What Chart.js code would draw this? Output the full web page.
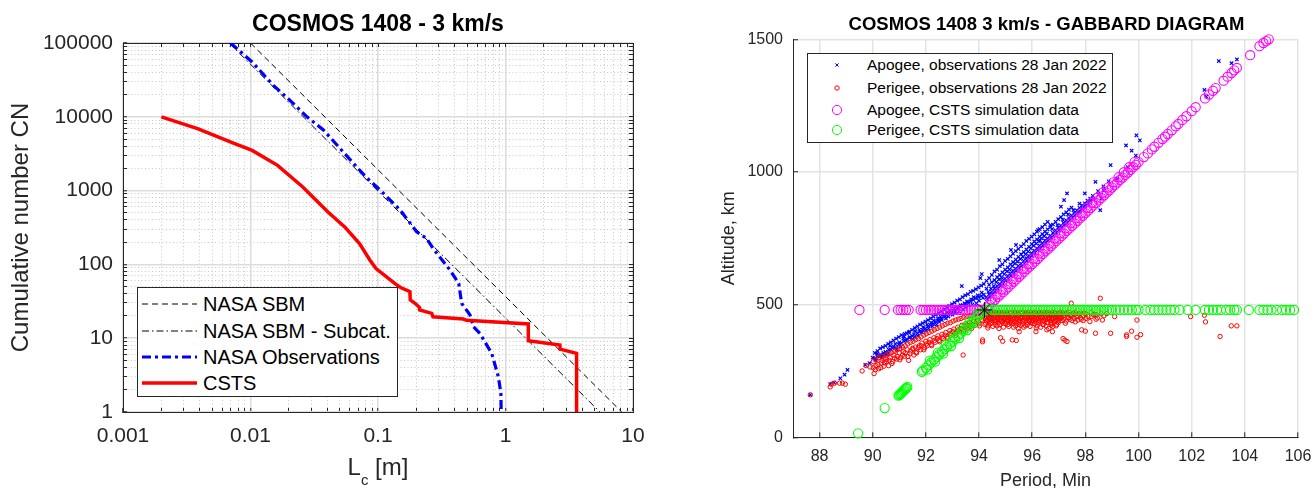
<!DOCTYPE html>
<html>
<head>
<meta charset="utf-8">
<title>COSMOS 1408 - 3 km/s</title>
<script src="https://cdn.jsdelivr.net/npm/chart.js@4/dist/chart.umd.min.js"></script>
<style>
html,body{margin:0;padding:0;background:#fff;overflow:hidden;}
#wrap{position:relative;width:1313px;height:488px;overflow:hidden;background:#fff;font-family:'Liberation Sans',Arial,Helvetica,sans-serif;}
#c1,#c2{position:absolute;top:0;}
#c1{left:0;}
#c2{left:700px;}
.leg{position:absolute;box-sizing:border-box;border:1px solid #262626;background:#fff;z-index:5;}
.leg svg{position:absolute;overflow:visible;}
.leg .t{position:absolute;white-space:nowrap;color:#000;}
#xl1{position:absolute;left:0;width:756px;top:455px;text-align:center;font-size:24px;line-height:24px;color:#262626;white-space:nowrap;z-index:5;}
#xl1 sub{font-size:15px;vertical-align:-10px;line-height:0;}
</style>
</head>
<body>
<div id="wrap">
<canvas id="c1" width="756" height="500"></canvas>
<canvas id="c2" width="693" height="500"></canvas>
<div id="xl1">L<sub>c</sub> [m]</div>
<div class="leg" id="legL" style="left:137px;top:287px;width:261px;height:110px;"></div>
<div class="leg" id="legR" style="left:807px;top:53px;width:306px;height:90px;"></div>
</div>
<script>
// ---------------- LEFT CHART DATA ----------------
const xDecades = [0.001, 0.01, 0.1, 1, 10];
const xTickLabels = ['0.001', '0.01', '0.1', '1', '10'];
const yDecades = [1, 10, 100, 1000, 10000, 100000];
const yTickLabels = ['1', '10', '100', '1000', '10000', '100000'];
const minorMultipliers = [2, 3, 4, 5, 6, 7, 8, 9];

const sbmLc = [0.01, 8.15];
const sbmN = [100000, 1];
const subcatLc = [0.0068, 5.5];
const subcatN = [100000, 1];
const obsLc = [0.00697, 0.0103, 0.0151, 0.0204, 0.0277, 0.0375, 0.0548, 0.0802, 0.105, 0.149, 0.201, 0.24, 0.27, 0.367, 0.43, 0.453, 0.527, 0.56, 0.63, 0.78, 0.879, 0.92, 0.925];
const obsN = [100000, 55300, 26700, 16700, 10000, 6570, 3170, 1530, 1000, 546, 277, 225, 165, 84, 55, 29.7, 20.6, 14.3, 11.6, 6.2, 3.0, 1.79, 1];
const cstsLc = [0.002, 0.00384, 0.0076, 0.0103, 0.0163, 0.0257, 0.0405, 0.0548, 0.0716, 0.0865, 0.0965, 0.136, 0.149, 0.178, 0.179, 0.195, 0.211, 0.212, 0.264, 0.27, 0.467, 0.494, 1.51, 1.51, 2.67, 2.68, 3.61, 3.61];
const cstsN = [10000, 6900, 4300, 3500, 2200, 1120, 514, 322, 191, 114, 88, 55, 49, 42.7, 33, 29.7, 26.2, 24.1, 21.7, 19.5, 18.2, 17.5, 15.6, 9.25, 8.1, 7.1, 6.24, 1];
const legendLabelsL = ['NASA SBM', 'NASA SBM - Subcat.', 'NASA Observations', 'CSTS'];

// ---------------- RIGHT CHART DATA ----------------
const periodTicks = [88, 90, 92, 94, 96, 98, 100, 102, 104, 106];
const altitudeTicks = [0, 500, 1000, 1500];
const legendLabelsR = ['Apogee, observations 28 Jan 2022', 'Perigee, observations 28 Jan 2022', 'Apogee, CSTS simulation data', 'Perigee, CSTS simulation data'];

const apogeeObs = [
[87.65,160],[88.4,200],[88.55,206],[88.78,222],[88.94,236],[89.05,254],[89.72,273],[89.88,280],[90.0,300],[90.1,292],[90.16,315],[90.25,305],[90.35,300],[90.4,318],[90.5,312],[90.6,330],[90.65,345],[90.75,338],[90.85,352],[90.9,330],[91.0,358],[91.05,342],[91.15,372],[91.2,390],[91.25,365],[91.35,395],[91.4,378],[91.5,370],[91.55,388],[91.6,400],[91.7,382],[91.75,405],[91.85,395],[91.9,415],[92.0,402],[92.05,425],[92.1,410],[92.2,432],[92.25,418],[92.3,440],[92.4,425],[92.45,448],[92.5,435],[92.55,455],[92.6,442],[92.7,462],[92.75,448],[92.8,470],[92.85,455],[92.9,478],[93.0,462],[93.05,485],[93.1,470],[93.2,490],[93.25,475],[93.3,498],[93.35,570],[93.4,482],[93.45,505],[93.5,490],[93.55,512],[93.6,495],[93.7,520],[93.75,500],[93.8,528],[93.9,505],[93.95,535],[94.0,515],[94.05,600],[94.1,615],[94.1,545],[94.15,525],
[94.3,520],[94.35,548],[94.4,530],[94.45,560],[94.5,540],[94.55,570],[94.6,548],[94.65,585],[94.7,560],[94.76,668],[94.75,595],[94.8,570],[94.85,602],[94.9,578],[94.95,615],[95.0,590],[95.05,625],[95.1,598],[95.15,632],[95.2,706],[95.2,608],[95.25,645],[95.3,618],[95.35,655],[95.39,725],[95.4,628],[95.45,662],[95.5,638],[95.55,672],[95.6,646],[95.65,680],[95.7,655],[95.75,690],[95.8,665],[95.85,700],[95.9,675],[95.95,712],[96.0,685],[96.05,722],[96.1,695],[96.15,730],[96.22,781],[96.2,705],[96.25,738],[96.29,743],[96.3,712],[96.35,750],[96.4,722],[96.45,758],[96.5,732],[96.55,768],[96.6,742],[96.69,800],[96.7,752],[96.75,785],[96.8,760],[96.9,770],[96.95,800],[97.0,780],[97.08,869],[97.1,790],[97.15,820],[97.2,894],[97.2,800],[97.31,919],[97.3,808],[97.35,840],[97.4,818],[97.5,828],[97.55,856],[97.6,835],[97.7,845],[97.78,881],[97.8,852],[97.9,862],[97.98,919],[98.0,870],[98.1,880],[98.2,890],[98.3,898],[98.38,963],[98.5,915],[98.56,856],[98.61,900],[98.7,930],[98.95,1026],[99.2,975],[99.53,1100],[99.6,1018],[99.74,1080],[99.9,1062],[99.92,1138],[100.05,1119],[102.48,1309],[102.55,1284],[103.02,1418],[103.5,1410],[103.7,1424]
];
const apogeeObsDense = [
[90.08,298],[90.08,318],[90.18,305],[90.18,325],[90.28,312],[90.28,335],[90.38,308],[90.38,340],[90.48,322],[90.48,345],[90.58,318],[90.58,352],[90.68,330],[90.68,358],[90.78,342],[90.78,365],[90.88,338],[90.88,372],[90.98,350],[90.98,378],[91.08,355],[91.08,385],[91.18,362],[91.18,380],[91.28,370],[91.28,392],[91.38,375],[91.38,398],[91.48,382],[91.48,405],[91.58,378],[91.58,412],[91.68,392],[91.68,418],[91.78,398],[91.78,425],[91.88,405],[91.88,430],[91.98,410],[91.98,436],[92.08,418],[92.08,442],[92.18,422],[92.18,448],[92.28,428],[92.28,455],[92.38,436],[92.38,462],[92.48,442],[92.48,468],[92.58,448],[92.58,475],[92.68,455],[92.68,482],[92.78,460],[92.78,490],[92.88,468],[92.88,495],[92.98,472],[92.98,502],[93.08,478],[93.08,508],[93.18,485],[93.18,515],[93.28,492],[93.28,520],[93.38,498],[93.38,528],[93.48,502],[93.48,535],[93.58,508],[93.58,540],[93.68,512],[93.68,548],[93.78,518],[93.78,552],[93.88,524],[93.88,558],[93.98,528],[93.98,565],[94.08,532],[94.08,572],[94.18,538],[94.18,578],
[94.28,528],[94.28,560],[94.28,590],[94.38,540],[94.38,575],[94.38,600],[94.48,548],[94.48,585],[94.48,612],[94.58,560],[94.58,592],[94.58,625],[94.68,570],[94.68,604],[94.68,632],[94.78,578],[94.78,612],[94.78,645],[94.88,590],[94.88,622],[94.88,652],[94.98,598],[94.98,632],[94.98,665],[95.08,608],[95.08,640],[95.08,672],[95.18,618],[95.18,652],[95.18,682],[95.28,628],[95.28,660],[95.28,692],[95.38,636],[95.38,670],[95.38,702],[95.48,646],[95.48,680],[95.48,710],[95.58,655],[95.58,690],[95.58,720],[95.68,665],[95.68,698],[95.68,728],[95.78,675],[95.78,708],[95.78,740],[95.88,684],[95.88,718],[95.88,748],[95.98,694],[95.98,728],[95.98,756],[96.08,704],[96.08,738],[96.08,765],[96.18,712],[96.18,746],[96.18,775],[96.28,722],[96.28,756],[96.28,785],[96.38,732],[96.38,766],[96.38,792],[96.48,742],[96.48,775],[96.48,802],[96.58,750],[96.58,784],[96.58,812],[96.68,760],[96.68,792],[96.78,770],[96.78,802],[96.88,780],[96.88,812],[96.98,790],[96.98,822],[97.08,798],[97.08,830],[97.18,808],[97.18,840],[97.28,818],[97.28,848],[97.38,826],[97.38,858],[97.48,836],[97.48,866],[97.58,845],[97.68,855],[97.78,865],[97.88,874],[97.98,882],[98.08,892],[98.18,900],[98.28,910],[98.48,928],[98.68,946],[98.88,965]
];

const perigeeObs = [
[87.65,160],[88.4,190],[88.45,200],[88.56,204],[88.75,204],[88.86,204],[88.97,200],
[89.6,250],[89.75,270],[89.9,265],[90.05,240],[90.1,255],[90.2,275],[90.3,262],[90.35,290],[90.45,280],[90.5,295],[90.6,270],[90.65,300],[90.75,285],[90.8,310],[90.9,295],[91.0,318],[91.05,300],[91.15,322],[91.2,305],[91.3,330],[91.35,290],[91.4,315],[91.5,335],[91.55,310],[91.6,340],[91.65,318],[91.75,345],[91.8,330],[91.85,355],[91.95,338],[92.0,362],[92.05,345],[92.15,368],[92.2,350],[92.3,375],[92.35,358],[92.45,382],[92.5,365],[92.6,388],[92.65,372],[92.75,395],[92.8,378],[92.9,402],[92.95,385],[93.05,408],[93.1,392],[93.2,415],[93.25,398],[93.35,422],[93.4,310],[93.45,405],[93.5,428],[93.55,412],[93.65,432],[93.7,418],[93.8,438],[93.85,422],[93.95,442],[94.0,428],[94.1,445],
[94.13,367],[94.13,360],[94.2,455],[94.25,430],[94.3,462],[94.35,420],[94.4,450],[94.45,470],[94.5,440],[94.55,460],[94.6,425],[94.65,468],[94.7,448],[94.75,410],[94.81,375],[94.8,462],[94.85,438],[94.89,362],[94.9,470],[94.95,450],[95.0,428],[95.05,465],[95.1,445],[95.15,470],[95.2,432],[95.25,367],[95.25,458],[95.3,415],[95.35,468],[95.4,365],[95.4,445],[95.45,460],[95.5,425],[95.51,398],[95.55,470],[95.6,450],[95.65,438],[95.7,465],[95.75,420],[95.8,455],[95.85,470],[95.9,440],[95.95,462],[96.0,430],[96.05,468],[96.1,448],[96.14,398],[96.15,412],[96.2,460],[96.25,438],[96.3,470],[96.35,452],[96.4,425],[96.45,465],[96.5,445],[96.55,405],[96.6,468],[96.65,450],[96.7,432],[96.72,423],[96.75,465],[96.76,398],[96.8,448],[96.85,470],[96.9,420],[96.95,458],[97.0,440],[97.05,468],[97.1,452],[97.16,372],[97.2,465],[97.23,366],[97.25,430],[97.3,470],[97.31,361],[97.35,450],[97.45,462],[97.47,505],[97.5,440],[97.55,468],[97.65,455],[97.75,465],[97.85,445],[97.86,405],[97.95,468],[98.0,400],[98.1,455],[98.17,436],[98.3,462],[98.38,392],[98.45,450],[98.56,524],[98.6,465],[98.64,442],[98.95,392],[99.55,380],[99.55,386],[99.74,400],[99.94,377],[99.94,442],[100.08,387],[101.96,455],[102.48,460],[102.52,435],[103.07,380],[103.49,420],[103.7,420]
];
const perigeeObsDense = [
[90.02,262],[90.02,285],[90.12,270],[90.12,292],[90.22,258],[90.22,300],[90.32,280],[90.32,305],[90.42,268],[90.42,296],[90.52,285],[90.52,310],[90.62,290],[90.62,315],[90.72,278],[90.72,320],[90.82,298],[90.82,325],[90.92,305],[90.92,330],[91.02,292],[91.02,335],[91.12,310],[91.12,340],[91.22,318],[91.22,345],[91.32,305],[91.32,352],[91.42,325],[91.42,358],[91.52,332],[91.52,362],[91.62,320],[91.62,368],[91.72,338],[91.72,372],[91.82,345],[91.82,378],[91.92,330],[91.92,385],[92.02,352],[92.02,390],[92.12,358],[92.12,395],[92.22,345],[92.22,400],[92.32,365],[92.32,405],[92.42,372],[92.42,410],[92.52,360],[92.52,415],[92.62,378],[92.62,420],[92.72,385],[92.72,425],[92.82,372],[92.82,430],[92.92,392],[92.92,432],[93.02,398],[93.02,438],[93.12,385],[93.12,442],[93.22,405],[93.22,445],[93.32,410],[93.32,448],[93.42,398],[93.42,452],[93.52,418],[93.52,455],[93.62,422],[93.62,458],[93.72,410],[93.72,460],[93.82,428],[93.82,462],[93.92,435],[93.92,465],[94.02,420],[94.02,468],[94.12,440],[94.12,458],
[94.22,448],[94.22,465],[94.22,425],[94.28,438],[94.28,470],[94.28,455],[94.33,460],[94.33,442],[94.33,412],[94.38,470],[94.38,435],[94.38,452],[94.42,445],[94.42,462],[94.42,428],[94.48,455],[94.48,432],[94.48,468],[94.52,466],[94.52,448],[94.52,418],[94.58,440],[94.58,472],[94.58,452],[94.62,458],[94.62,435],[94.62,470],[94.68,465],[94.68,442],[94.68,420],[94.72,452],[94.72,470],[94.72,432],[94.78,445],[94.78,466],[94.78,425],[94.82,470],[94.82,450],[94.82,438],[94.88,455],[94.88,432],[94.88,462],[94.92,442],[94.92,468],[94.92,415],[94.98,462],[94.98,448],[94.98,430],[95.02,470],[95.02,438],[95.02,455],[95.08,452],[95.08,425],[95.08,466],[95.12,440],[95.12,462],[95.12,418],[95.18,468],[95.18,448],[95.18,435],[95.22,455],[95.22,470],[95.22,440],[95.28,445],[95.28,428],[95.28,462],[95.32,458],[95.32,472],[95.32,436],[95.38,438],[95.38,455],[95.38,420],[95.42,470],[95.42,448],[95.42,430],[95.48,452],[95.48,465],[95.48,410],[95.52,442],[95.52,460],[95.52,432],[95.58,466],[95.58,448],[95.58,422],[95.62,455],[95.62,470],[95.62,438],[95.68,445],[95.68,462],[95.68,415],[95.72,470],[95.72,440],[95.72,452],[95.78,458],[95.78,432],[95.78,468],[95.82,448],[95.82,465],[95.82,425],[95.88,462],[95.88,438],[95.88,452],[95.92,470],[95.92,445],[95.92,418],[95.98,452],[95.98,466],[95.98,435],[96.02,440],[96.02,458],[96.02,470],[96.08,465],[96.08,448],[96.08,428],[96.12,455],[96.12,472],[96.12,438],[96.18,445],[96.18,462],[96.18,420],[96.22,468],[96.22,450],[96.22,432],[96.28,458],[96.28,440],[96.28,470],[96.32,448],[96.32,465],[96.32,415],[96.38,470],[96.38,455],[96.38,435],[96.42,442],[96.42,460],[96.42,425],[96.48,466],[96.48,450],[96.48,438],[96.52,455],[96.52,470],[96.52,420],[96.58,445],[96.58,462],[96.58,432],[96.62,470],[96.62,448],[96.62,410],[96.68,458],[96.68,440],[96.68,465],[96.72,448],[96.72,468],[96.72,428],[96.78,462],[96.78,445],[96.78,418],[96.82,470],[96.82,455],[96.82,435],[96.88,452],[96.88,466],[96.88,440],[96.92,442],[96.92,460],[96.92,425],[96.98,465],[96.98,450],[96.98,432],[97.02,455],[97.02,470],[97.08,448],[97.08,462],[97.12,470],[97.12,440],[97.18,458],[97.18,445],[97.28,466],[97.28,438],[97.38,452],[97.38,470],[97.42,445],[97.42,460],[97.58,462],[97.58,448],[97.62,470],[97.62,435],[97.72,455],[97.72,442],[97.82,468],[97.82,450],[97.92,458],[97.92,440],[98.02,465],[98.02,448],[98.22,455],[98.22,470],[98.4,462],[98.4,445],[98.7,458],[98.8,466],[99.1,455]
];

const apogeeCSTS = [
[89.5,480],[90.45,480],[90.95,480],[91.05,480],[91.15,480],[91.25,480],[91.35,480],[91.8,480],[91.9,480],[92.0,480],[92.1,480],[92.2,480],[92.3,480],[92.4,480],[92.5,480],[92.6,480],[92.7,480],[92.8,480],[92.9,480],[93.0,480],[93.1,480],[93.2,480],[93.3,480],[93.4,480],[93.5,480],[93.6,480],[93.7,480],[93.8,480],[93.9,480],[94.0,480],[94.1,480],
[94.3,490],[94.4,499],[94.5,509],[94.6,518],[94.7,528],[94.8,538],[94.9,547],[95.0,557],[95.1,566],[95.2,576],[95.3,586],[95.4,595],[95.5,605],[95.6,614],[95.7,624],[95.8,634],[95.9,643],[96.0,653],[96.1,662],[96.2,672],[96.3,682],[96.4,691],[96.5,701],[96.6,710],[96.7,720],[96.8,730],[96.9,739],[97.0,749],[97.1,758],[97.2,768],[97.3,778],[97.4,787],[97.5,797],[97.6,806],[97.7,816],[97.8,826],[97.9,835],[98.0,845],[98.1,854],[98.2,864],[98.3,874],[98.4,883],[98.5,893],[98.6,902],[98.7,912],[98.8,922],[98.9,931],[99.0,941],[99.1,950],[99.2,960],[99.3,970],[99.4,979],[99.5,989],[99.6,998],[99.7,1008],[99.8,1018],[99.9,1027],[100.0,1037],
[94.45,519],[94.65,538],[94.85,557],[95.05,577],[95.25,596],[95.45,615],[95.65,634],[95.85,653],[96.05,673],[96.25,692],[96.45,711],[96.65,730],[96.85,749],[97.05,769],[97.25,788],[97.45,807],[97.65,826],[97.85,845],[98.05,865],[98.25,884],[98.45,903],[98.65,922],[98.85,941],[99.05,961],[99.25,980],[99.45,999],[99.65,1018],[99.85,1037],
[100.2,1056],[100.35,1070],[100.5,1085],[100.6,1095],[100.75,1110],[100.9,1124],[101.0,1133],[101.1,1143],[101.25,1157],[101.4,1172],[101.5,1181],[101.65,1196],[101.8,1210],[102.0,1229],[102.15,1244],[102.5,1277],[102.65,1292],[102.8,1306],[102.9,1316],[103.2,1344],[103.35,1359],[103.5,1373],[103.6,1383],[103.7,1392],[104.2,1440],[104.55,1474],[104.7,1486],[104.8,1493],[104.9,1500]
];

const perigeeCSTS = [
[94.3,480],[94.4,480],[94.5,480],[94.6,480],[94.7,480],[94.8,480],[94.9,480],[95.0,480],[95.1,480],[95.2,480],[95.3,480],[95.4,480],[95.5,480],[95.6,480],[95.7,480],[95.8,480],[95.9,480],[96.0,480],[96.1,480],[96.2,480],[96.3,480],[96.4,480],[96.5,480],[96.6,480],[96.7,480],[96.8,480],[96.9,480],[97.0,480],[97.1,480],[97.2,480],[97.3,480],[97.4,480],[97.5,480],[97.6,480],[97.7,480],[97.8,480],[97.9,480],[98.0,480],[98.1,480],[98.2,480],[98.3,480],[98.4,480],[98.5,480],[98.6,480],[98.7,480],[98.8,480],[98.9,480],[99.0,480],
[99.15,480],[99.3,480],[99.45,480],[99.6,480],[99.75,480],[99.9,480],[100.0,480],[100.25,480],[100.45,480],[100.6,480],[100.75,480],[100.9,480],[101.05,480],[101.2,480],[101.35,480],[101.55,480],[101.85,480],[102.15,480],[102.5,480],[102.65,480],[102.8,480],[102.95,480],[103.1,480],[103.3,480],[103.45,480],[103.6,480],[103.7,480],[104.15,480],[104.55,480],[104.7,480],[104.85,480],[105.0,480],[105.2,480],[105.4,480],[105.55,480],[105.7,480],[105.85,480],
[94.1,470],[94.0,460],[93.9,450],[93.8,440],[93.7,430],[93.6,421],[93.5,411],[93.4,401],[93.3,391],[93.2,381],[93.1,371],[93.0,361],[92.9,351],[92.8,341],[92.7,332],[92.6,322],[92.5,312],[92.4,302],[92.3,292],[92.2,282],[92.1,272],[92.0,262],[91.9,252],[91.85,247],
[92.05,255],[92.35,285],[92.65,315],[92.95,344],[93.25,374],[93.55,404],[93.85,433],
[92.15,289],[92.45,319],[92.75,348],[93.05,378],[93.35,408],[93.65,438],[93.95,467],
[91.3,190],[91.27,186],[91.24,183],[91.2,180],[91.17,176],[91.14,173],[91.1,170],[91.07,166],[91.04,163],[91.0,160],[90.97,157],
[90.45,110],[89.45,15]
];

const breakupPoint = [[94.2,480]];

// ---------------- HELPERS ----------------
const FONT = "'Liberation Sans', Arial, Helvetica, sans-serif";
Chart.defaults.font.family = FONT;
const AX = '#262626';

function logTicks(decades) {
  const out = [];
  for (let i = 0; i < decades.length; i++) {
    out.push({ value: decades[i] });
    if (i < decades.length - 1) {
      for (const m of minorMultipliers) out.push({ value: +(decades[i] * m).toPrecision(6) });
    }
  }
  return out;
}
function isDecade(v) { const l = Math.log10(v); return Math.abs(l - Math.round(l)) < 1e-6; }
function decadeLabel(v, decades, labels) {
  const i = decades.findIndex(d => Math.abs(Math.log10(d) - Math.log10(v)) < 1e-6);
  return i >= 0 ? labels[i] : '';
}
const toPts = (xs, ys) => xs.map((x, i) => ({ x: x, y: ys[i] }));
const pairPts = arr => arr.map(p => ({ x: p[0], y: p[1] }));

const logGrid = {
  color: c => (c.tick && isDecade(c.tick.value)) ? '#dcdcdc' : '#c8c8c8',
  lineWidth: c => (c.tick && isDecade(c.tick.value)) ? 1.5 : 1,
  tickColor: AX, tickLength: -4, tickWidth: 1, drawTicks: true
};
const logBorder = {
  display: true, color: AX, width: 1,
  dash: c => (c.tick && !isDecade(c.tick.value)) ? [1, 2.5] : []
};

// ---------------- LEFT CHART ----------------
new Chart(document.getElementById('c1'), {
  type: 'scatter',
  data: {
    datasets: [
      { label: legendLabelsL[0], data: toPts(sbmLc, sbmN), showLine: true, borderColor: '#000', borderWidth: 1, borderDash: [6, 4], pointRadius: 0, order: 4 },
      { label: legendLabelsL[1], data: toPts(subcatLc, subcatN), showLine: true, borderColor: '#000', borderWidth: 1, borderDash: [7, 3, 1.5, 3], pointRadius: 0, order: 3 },
      { label: legendLabelsL[2], data: toPts(obsLc, obsN), showLine: true, borderColor: '#0000ff', borderWidth: 3.2, borderDash: [9, 4, 3, 4], pointRadius: 0, order: 2 },
      { label: legendLabelsL[3], data: toPts(cstsLc, cstsN), showLine: true, borderColor: '#ff0000', borderWidth: 3.5, pointRadius: 0, order: 1 }
    ]
  },
  options: {
    responsive: false, animation: false, devicePixelRatio: 1, events: [],
    layout: { padding: 0 },
    plugins: {
      legend: { display: false }, tooltip: { enabled: false },
      title: { display: true, text: 'COSMOS 1408 - 3 km/s', color: '#000', font: { size: 23, weight: 'bold', lineHeight: 1.2 }, padding: { top: 11.2, bottom: 4.2 } }
    },
    scales: {
      x: {
        type: 'logarithmic', position: 'bottom', min: 0.001, max: 10,
        afterBuildTicks: s => { s.ticks = logTicks(xDecades); },
        afterFit: s => { s.height = 88; },
        ticks: { autoSkip: false, maxRotation: 0, minRotation: 0, padding: 15.4, color: AX, font: { size: 21 }, callback: v => decadeLabel(v, xDecades, xTickLabels) },
        grid: logGrid, border: logBorder
      },
      y: {
        type: 'logarithmic', position: 'left', min: 1, max: 100000,
        afterBuildTicks: s => { s.ticks = logTicks(yDecades); },
        afterFit: s => { s.width = 123; },
        ticks: { autoSkip: false, padding: 14, color: AX, font: { size: 21 }, callback: v => decadeLabel(v, yDecades, yTickLabels) },
        grid: logGrid, border: logBorder,
        title: { display: true, text: 'Cumulative number CN', color: AX, font: { size: 24, lineHeight: 1.2 }, padding: { top: 6.6, bottom: 0 } }
      },
      x2: {
        type: 'logarithmic', position: 'top', min: 0.001, max: 10,
        afterBuildTicks: s => { s.ticks = logTicks(xDecades); },
        afterFit: s => { s.height = 0; },
        ticks: { display: false },
        grid: { drawOnChartArea: false, tickLength: -4, tickColor: AX, color: AX, tickWidth: 1 },
        border: { display: true, color: AX, width: 1 }
      },
      y2: {
        type: 'logarithmic', position: 'right', min: 1, max: 100000,
        afterBuildTicks: s => { s.ticks = logTicks(yDecades); },
        afterFit: s => { s.width = 123; },
        ticks: { display: false },
        grid: { drawOnChartArea: false, tickLength: -4, tickColor: AX, color: AX, tickWidth: 1 },
        border: { display: true, color: AX, width: 1 }
      }
    }
  }
});

// ---------------- RIGHT CHART ----------------
new Chart(document.getElementById('c2'), {
  type: 'scatter',
  data: {
    datasets: [
      { label: legendLabelsR[0], data: pairPts(apogeeObs.concat(apogeeObsDense)), pointStyle: 'crossRot', pointRadius: 2.4, pointBorderWidth: 1.2, pointBorderColor: '#0000ff', pointBackgroundColor: '#0000ff', order: 4 },
      { label: legendLabelsR[1], data: pairPts(perigeeObs.concat(perigeeObsDense)), pointStyle: 'circle', pointRadius: 2.2, pointBorderWidth: 1, pointBorderColor: '#ff0000', pointBackgroundColor: 'rgba(0,0,0,0)', order: 3 },
      { label: legendLabelsR[2], data: pairPts(apogeeCSTS), pointStyle: 'circle', pointRadius: 4.6, pointBorderWidth: 1.1, pointBorderColor: '#ff00ff', pointBackgroundColor: 'rgba(0,0,0,0)', order: 2, clip: false },
      { label: legendLabelsR[3], data: pairPts(perigeeCSTS), pointStyle: 'circle', pointRadius: 4.6, pointBorderWidth: 1.1, pointBorderColor: '#00ff00', pointBackgroundColor: 'rgba(0,0,0,0)', order: 1, clip: false },
      { label: 'Breakup', data: pairPts(breakupPoint), pointStyle: 'star', pointRadius: 8, pointBorderWidth: 1, pointBorderColor: '#000', pointBackgroundColor: '#000', order: 0, clip: false }
    ]
  },
  options: {
    responsive: false, animation: false, devicePixelRatio: 1, events: [],
    layout: { padding: 0 },
    plugins: {
      legend: { display: false }, tooltip: { enabled: false },
      title: { display: true, text: 'COSMOS 1408 3 km/s - GABBARD DIAGRAM', color: '#000', font: { size: 18.5, weight: 'bold', lineHeight: 1.2 }, padding: { top: 13.9, bottom: 3.2 } }
    },
    scales: {
      x: {
        type: 'linear', position: 'bottom', min: 87, max: 106,
        afterBuildTicks: s => { s.ticks = periodTicks.map(v => ({ value: v })); },
        afterFit: s => { s.height = 62.7; },
        ticks: { autoSkip: false, maxRotation: 0, padding: 14.6, color: AX, font: { size: 16 }, callback: v => String(v) },
        grid: { color: '#e3e3e3', lineWidth: 1.5, tickColor: AX, tickLength: -5, tickWidth: 1 },
        border: { display: true, color: AX, width: 1 },
        title: { display: true, text: 'Period, Min', color: AX, font: { size: 18, lineHeight: 1.2 }, padding: { top: 0, bottom: 8.2 } }
      },
      y: {
        type: 'linear', position: 'left', min: 0, max: 1500,
        afterBuildTicks: s => { s.ticks = altitudeTicks.map(v => ({ value: v })); },
        afterFit: s => { s.width = 93; },
        ticks: { autoSkip: false, padding: 15, color: AX, font: { size: 16 }, callback: v => String(v) },
        grid: { color: '#e3e3e3', lineWidth: 1.5, tickColor: AX, tickLength: -5, tickWidth: 1 },
        border: { display: true, color: AX, width: 1 },
        title: { display: true, text: 'Altitude, km', color: AX, font: { size: 18, lineHeight: 1.2 }, padding: { top: 18.2, bottom: 0 } }
      },
      yPad: {
        type: 'linear', position: 'right', min: 0, max: 1,
        afterFit: s => { s.width = 95; },
        ticks: { display: false },
        grid: { display: false },
        border: { display: false }
      }
    }
  }
});

// ---------------- LEGENDS (HTML boxes) ----------------
(function () {
  const NS = 'http://www.w3.org/2000/svg';
  const legL = document.getElementById('legL');
  const rowsL = [16, 43, 69, 95];
  const stylesL = [
    { c: '#000', w: 1, d: '6,4' },
    { c: '#000', w: 1, d: '7,3,1.5,3' },
    { c: '#0000ff', w: 3.2, d: '9,4,3,4' },
    { c: '#ff0000', w: 3.5, d: '' }
  ];
  legendLabelsL.forEach((lab, i) => {
    const svg = document.createElementNS(NS, 'svg');
    svg.setAttribute('width', 56); svg.setAttribute('height', 12);
    svg.style.left = '4px'; svg.style.top = (rowsL[i] - 6) + 'px';
    const ln = document.createElementNS(NS, 'line');
    ln.setAttribute('x1', 0); ln.setAttribute('x2', 55); ln.setAttribute('y1', 6); ln.setAttribute('y2', 6);
    ln.setAttribute('stroke', stylesL[i].c); ln.setAttribute('stroke-width', stylesL[i].w);
    if (stylesL[i].d) ln.setAttribute('stroke-dasharray', stylesL[i].d);
    svg.appendChild(ln); legL.appendChild(svg);
    const t = document.createElement('div');
    t.className = 't'; t.textContent = lab;
    t.style.left = '65px'; t.style.top = (rowsL[i] - 13) + 'px';
    t.style.fontSize = '20px'; t.style.lineHeight = '26px';
    legL.appendChild(t);
  });

  const legR = document.getElementById('legR');
  const rowsR = [11, 33.7, 56, 75.5];
  legendLabelsR.forEach((lab, i) => {
    const svg = document.createElementNS(NS, 'svg');
    svg.setAttribute('width', 20); svg.setAttribute('height', 20);
    svg.style.left = '19px'; svg.style.top = (rowsR[i] - 10) + 'px';
    if (i === 0) {
      const a = document.createElementNS(NS, 'path');
      a.setAttribute('d', 'M8.4,8.4 L11.6,11.6 M8.4,11.6 L11.6,8.4');
      a.setAttribute('stroke', '#0000ff'); a.setAttribute('stroke-width', 1);
      svg.appendChild(a);
    } else {
      const c = document.createElementNS(NS, 'circle');
      c.setAttribute('cx', 10); c.setAttribute('cy', 10);
      c.setAttribute('r', i === 1 ? 2.2 : 4.6);
      c.setAttribute('fill', 'none');
      c.setAttribute('stroke', ['', '#ff0000', '#ff00ff', '#00ff00'][i]);
      c.setAttribute('stroke-width', 1);
      svg.appendChild(c);
    }
    legR.appendChild(svg);
    const t = document.createElement('div');
    t.className = 't'; t.textContent = lab;
    t.style.left = '59px'; t.style.top = (rowsR[i] - 10) + 'px';
    t.style.fontSize = '15.5px'; t.style.lineHeight = '20px';
    legR.appendChild(t);
  });
})();
</script>
</body>
</html>
